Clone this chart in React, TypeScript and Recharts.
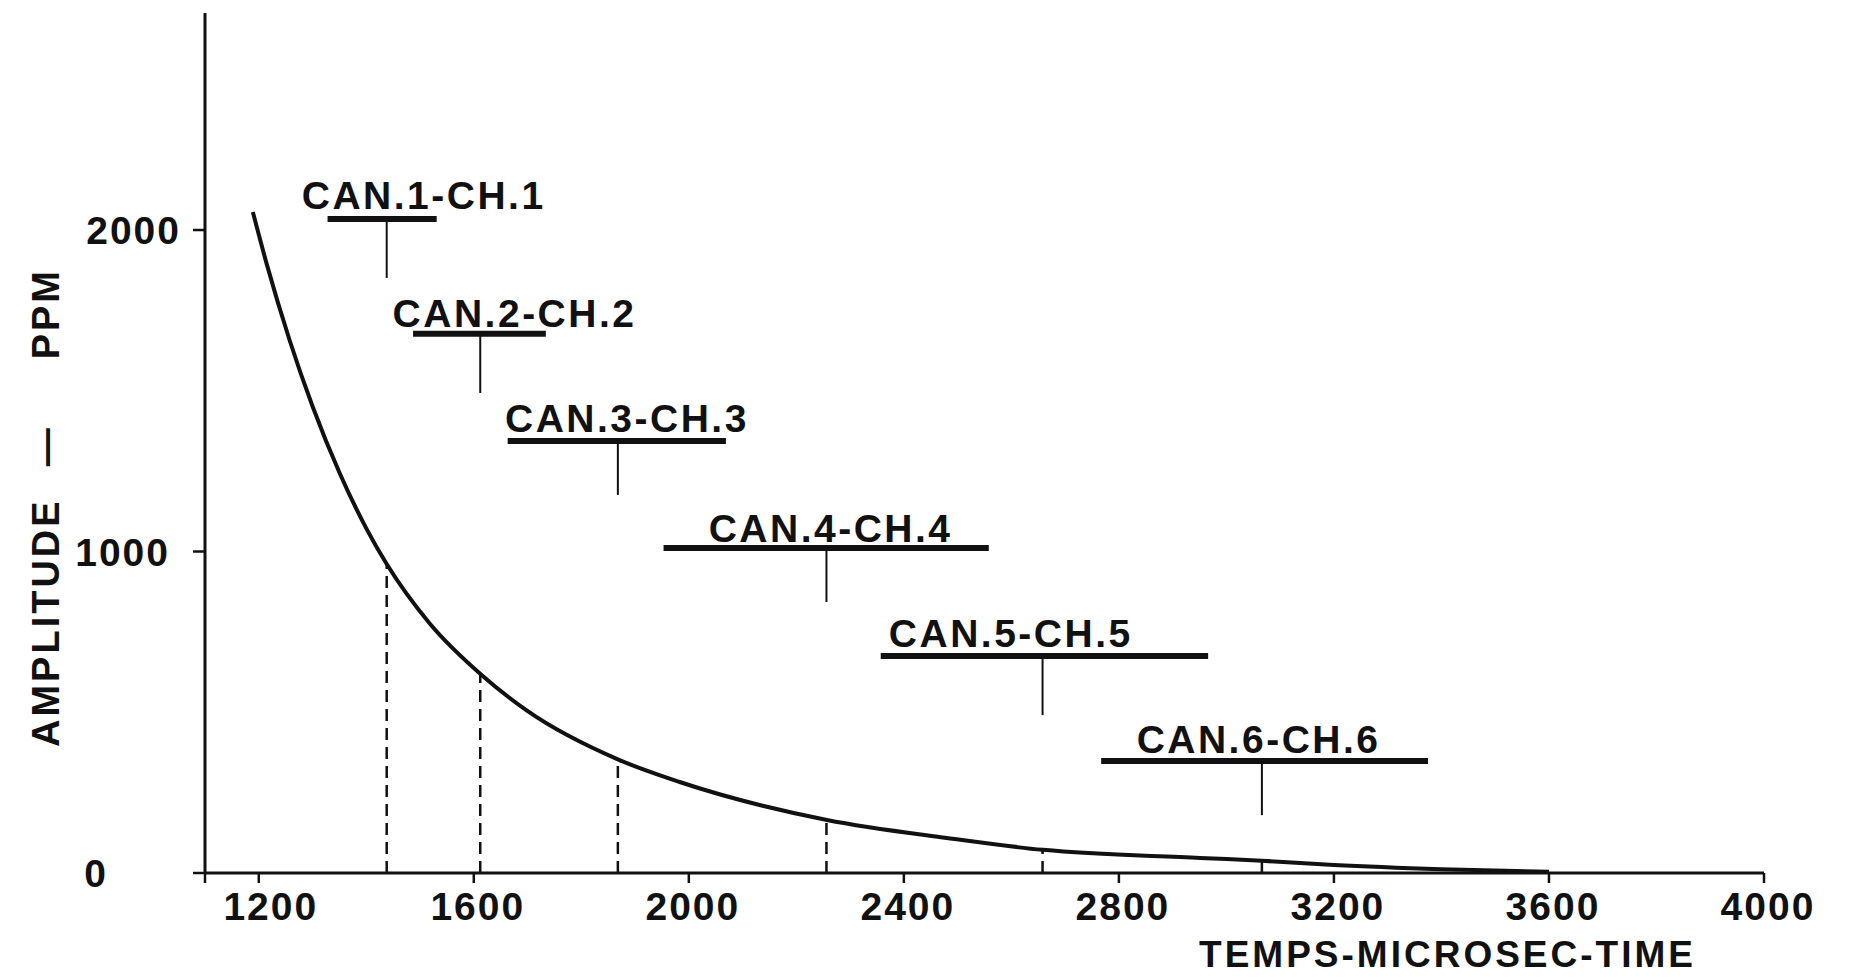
import React from 'react';
import { ComposedChart, Line, XAxis, YAxis, ReferenceLine, Scatter } from 'recharts';

// Decay curve (time in microseconds, amplitude in ppm)
const curveTime = [1189, 1215, 1258, 1300, 1351, 1401, 1438, 1518, 1615, 1699, 1870, 1983, 2257, 2480, 2659, 2951, 3066, 3200, 3400, 3600];
const curveAmp = [2056, 1893, 1654, 1452, 1242, 1069, 961, 776, 615, 505, 352, 283, 165, 109, 72, 47, 38, 25, 12, 4];

// Channel annotations
const channelLabels = ['CAN.1-CH.1', 'CAN.2-CH.2', 'CAN.3-CH.3', 'CAN.4-CH.4', 'CAN.5-CH.5', 'CAN.6-CH.6'];
const channelTime = [1438, 1612, 1868, 2256, 2658, 3066];
const channelAmp = [961, 617, 353, 165, 72, 38];
const barStart = [1328, 1487, 1663, 1953, 2357, 2767];
const barEnd = [1531, 1734, 2069, 2558, 2966, 3375];
const barLevel = [2034, 1677, 1344, 1011, 675, 348];
const arrowEnd = [1851, 1493, 1176, 843, 491, 180];
const labelStart = [1280, 1449, 1658, 2037, 2372, 2833];
const labelBase = [2065, 1698, 1372, 1030, 703, 373];

// Axes
const xTicks = [1100, 1200, 1600, 2000, 2400, 2800, 3200, 3600, 4000];
const yTicks = [0, 1000, 2000];
const xDomain = [1100, 4000];
const yDomain = [0, 2675];
const xTitle = 'TEMPS-MICROSEC-TIME';
const yTitleParts = ['AMPLITUDE', '—', 'PPM'];

const curveData = curveTime.map((t, i) => ({ t, amp: curveAmp[i] }));
const labelData = channelLabels.map((text, i) => ({ t: labelStart[i], amp: labelBase[i], text }));

const INK = '#111';
const FONT = '"Liberation Sans", Arial, sans-serif';
const textStyle = { fontFamily: FONT, fill: INK, fontWeight: 700 as const };

const LabelShape = (props: any) => {
  const { cx, cy, payload } = props;
  return (
    <text x={cx} y={cy} textAnchor="start" fontSize={39} letterSpacing={2.5} style={textStyle}>
      {payload.text}
    </text>
  );
};

const yTickOffset: Record<number, number> = { 0: -73, 1000: -11, 2000: 0 };

const YTick = (props: any) => {
  const { x, y, payload } = props;
  const dx = yTickOffset[payload.value] ?? 0;
  return (
    <text x={x + dx} y={y} dy="0.36em" textAnchor="end" fontSize={39} letterSpacing={2} style={textStyle}>
      {payload.value}
    </text>
  );
};

const XTick = (props: any) => {
  const { x, y, payload } = props;
  if (payload.value === 1100) return null;
  const dx = payload.value === 1200 ? 12 : 4;
  return (
    <text x={x + dx} y={y} dy="0.74em" textAnchor="middle" fontSize={39} letterSpacing={2} style={textStyle}>
      {payload.value}
    </text>
  );
};

const YTitle = (props: any) => {
  const { viewBox } = props;
  const x = viewBox.x + 37;
  const y = viewBox.y + viewBox.height * 0.575;
  return (
    <text x={x} y={y} transform={`rotate(-90 ${x} ${y})`} dy="0.36em" textAnchor="middle" fontSize={38} letterSpacing={3} style={textStyle}>
      <tspan>{yTitleParts[0]}</tspan>
      <tspan dx={32}>{yTitleParts[1]}</tspan>
      <tspan dx={66}>{yTitleParts[2]}</tspan>
    </text>
  );
};

const XTitle = (props: any) => {
  const { viewBox } = props;
  const x = viewBox.x + viewBox.width * 0.797;
  const y = viewBox.y + viewBox.height - 10;
  return (
    <text x={x} y={y} textAnchor="middle" fontSize={37} letterSpacing={3} style={textStyle}>
      {xTitle}
    </text>
  );
};

export default function App() {
  return (
    <div style={{ width: 1834, height: 969, background: '#fff' }}>
      <ComposedChart width={1834} height={969} data={curveData} margin={{ top: 5, right: 78, bottom: 0, left: 0 }}>
        <XAxis
          dataKey="t"
          type="number"
          domain={xDomain}
          ticks={xTicks}
          allowDataOverflow
          height={104}
          tickSize={10}
          tickMargin={8}
          tick={<XTick />}
          axisLine={{ stroke: INK, strokeWidth: 3 }}
          tickLine={{ stroke: INK, strokeWidth: 2.5 }}
          label={{ content: <XTitle /> }}
        />
        <YAxis
          type="number"
          domain={yDomain}
          ticks={yTicks}
          allowDataOverflow
          width={197}
          tickSize={12}
          tickMargin={12}
          tick={<YTick />}
          axisLine={{ stroke: INK, strokeWidth: 3 }}
          tickLine={{ stroke: INK, strokeWidth: 2.5 }}
          label={{ content: <YTitle /> }}
        />
        {channelTime.map((t, i) => (
          <ReferenceLine
            key={`dash-${i}`}
            segment={[{ x: t, y: 0 }, { x: t, y: channelAmp[i] }]}
            stroke={INK}
            strokeWidth={2.5}
            strokeDasharray="12 7"
          />
        ))}
        {channelTime.map((t, i) => (
          <ReferenceLine
            key={`bar-${i}`}
            segment={[{ x: barStart[i], y: barLevel[i] }, { x: barEnd[i], y: barLevel[i] }]}
            stroke={INK}
            strokeWidth={6}
          />
        ))}
        {channelTime.map((t, i) => (
          <ReferenceLine
            key={`arrow-${i}`}
            segment={[{ x: t, y: barLevel[i] }, { x: t, y: arrowEnd[i] }]}
            stroke={INK}
            strokeWidth={2}
          />
        ))}
        <Line
          type="monotone"
          dataKey="amp"
          stroke={INK}
          strokeWidth={4}
          dot={false}
          isAnimationActive={false}
        />
        <Scatter data={labelData} dataKey="amp" shape={<LabelShape />} isAnimationActive={false} />
      </ComposedChart>
    </div>
  );
}
